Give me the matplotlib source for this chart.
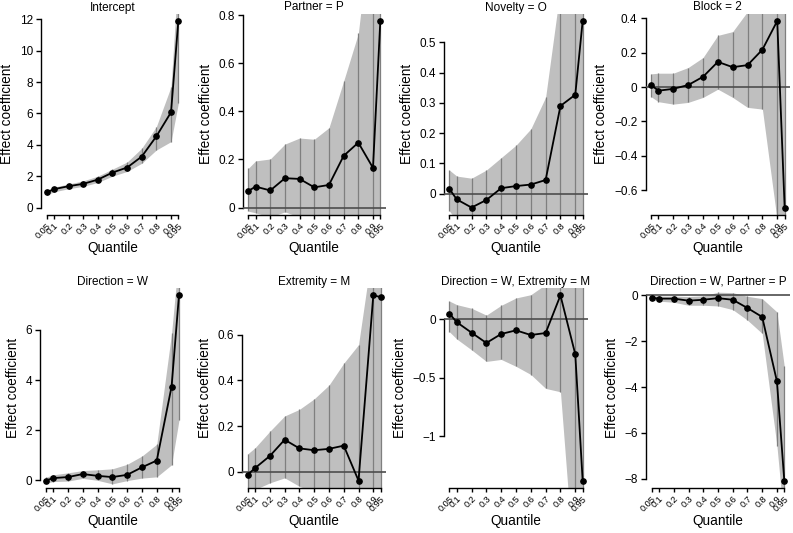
import matplotlib
matplotlib.use("Agg")
import matplotlib.pyplot as plt
from matplotlib.ticker import FixedLocator, FixedFormatter

plt.rcParams['font.family'] = ['Liberation Sans', 'DejaVu Sans']

quantiles = [0.05, 0.1, 0.2, 0.3, 0.4, 0.5, 0.6, 0.7, 0.8, 0.9, 0.95]
quantile_labels = ["0.05", "0.1", "0.2", "0.3", "0.4", "0.5", "0.6", "0.7", "0.8", "0.9", "0.95"]

titles = ["Intercept", "Partner = P", "Novelty = O", "Block = 2",
          "Direction = W", "Extremity = M", "Direction = W, Extremity = M",
          "Direction = W, Partner = P"]

intercept_coef = [0.96, 1.17, 1.36, 1.51, 1.78, 2.23, 2.55, 3.25, 4.54, 6.07, 11.89]
intercept_lower = [0.80, 1.00, 1.20, 1.35, 1.60, 2.00, 2.30, 2.82, 3.67, 4.20, 6.65]
intercept_upper = [1.10, 1.30, 1.50, 1.70, 2.00, 2.45, 2.90, 3.78, 5.16, 7.70, 15.0]

partner_coef = [0.069, 0.087, 0.071, 0.122, 0.119, 0.084, 0.094, 0.215, 0.270, 0.165, 0.776]
partner_lower = [-0.015, -0.022, -0.040, -0.018, -0.040, -0.050, -0.060, -0.080, -0.100, -0.300, -0.500]
partner_upper = [0.163, 0.194, 0.202, 0.264, 0.289, 0.284, 0.332, 0.526, 0.724, 1.250, 1.500]

novelty_coef = [0.016, -0.019, -0.046, -0.021, 0.018, 0.025, 0.030, 0.045, 0.290, 0.327, 0.571]
novelty_lower = [-0.057, -0.090, -0.110, -0.100, -0.085, -0.085, -0.090, -0.100, -0.120, -0.200, -0.300]
novelty_upper = [0.078, 0.058, 0.051, 0.078, 0.119, 0.160, 0.214, 0.319, 0.680, 0.900, 1.200]

block_coef = [0.012, -0.021, -0.010, 0.012, 0.060, 0.147, 0.116, 0.128, 0.218, 0.385, -0.701]
block_lower = [-0.056, -0.085, -0.099, -0.089, -0.060, -0.012, -0.060, -0.118, -0.128, -0.780, -1.300]
block_upper = [0.077, 0.081, 0.081, 0.114, 0.172, 0.301, 0.323, 0.440, 0.600, 0.700, 0.600]

direction_coef = [-0.01, 0.09, 0.13, 0.25, 0.18, 0.13, 0.22, 0.52, 0.79, 3.74, 7.38]
direction_lower = [-0.12, -0.05, -0.03, 0.08, 0.00, -0.14, -0.01, 0.09, 0.14, 0.62, 2.40]
direction_upper = [0.12, 0.22, 0.30, 0.39, 0.42, 0.46, 0.64, 0.97, 1.44, 5.87, 9.00]

extremity_coef = [-0.013, 0.016, 0.069, 0.140, 0.102, 0.094, 0.100, 0.114, -0.039, 0.772, 0.765]
extremity_lower = [-0.080, -0.078, -0.049, -0.027, -0.064, -0.090, -0.100, -0.120, -0.150, -0.300, -0.300]
extremity_upper = [0.078, 0.105, 0.177, 0.244, 0.273, 0.319, 0.379, 0.475, 0.556, 1.000, 1.100]

dir_ext_coef = [0.051, -0.023, -0.113, -0.201, -0.124, -0.093, -0.133, -0.116, 0.206, -0.297, -1.379]
dir_ext_lower = [-0.105, -0.167, -0.260, -0.359, -0.342, -0.401, -0.471, -0.590, -0.619, -2.260, -3.000]
dir_ext_upper = [0.158, 0.127, 0.096, 0.037, 0.121, 0.184, 0.212, 0.300, 0.500, 0.500, 0.300]

dir_partner_coef = [-0.10, -0.14, -0.14, -0.23, -0.19, -0.12, -0.19, -0.55, -0.94, -3.75, -8.08]
dir_partner_lower = [-0.20, -0.25, -0.30, -0.43, -0.43, -0.46, -0.62, -1.08, -1.66, -6.56, -10.0]
dir_partner_upper = [0.00, -0.03, -0.03, -0.05, -0.02, 0.14, 0.12, -0.04, -0.14, -0.72, -3.10]

yticks_list = [
    [0, 2, 4, 6, 8, 10, 12],
    [0, 0.2, 0.4, 0.6, 0.8],
    [0, 0.1, 0.2, 0.3, 0.4, 0.5],
    [-0.6, -0.4, -0.2, 0, 0.2, 0.4],
    [0, 2, 4, 6],
    [0, 0.2, 0.4, 0.6],
    [-1, -0.5, 0],
    [-8, -6, -4, -2, 0],
]

coefs = [intercept_coef, partner_coef, novelty_coef, block_coef,
         direction_coef, extremity_coef, dir_ext_coef, dir_partner_coef]
lowers = [intercept_lower, partner_lower, novelty_lower, block_lower,
          direction_lower, extremity_lower, dir_ext_lower, dir_partner_lower]
uppers = [intercept_upper, partner_upper, novelty_upper, block_upper,
          direction_upper, extremity_upper, dir_ext_upper, dir_partner_upper]
zero_line = [False, True, True, True, False, True, True, True]

W, H = 793, 533
fig = plt.figure(figsize=(W / 100, H / 100), dpi=100)

# pixel boxes (left, top, right, bottom)
boxes = [
    (41.4, 13.5, 183.6, 215), (243, 13.5, 385.6, 215), (444, 13.5, 588, 215), (645.7, 13.5, 790, 215),
    (40.4, 288, 184.3, 488), (242.4, 288, 386, 488), (444, 288, 588, 488), (646.4, 288, 789.6, 488),
]

def fmt(v):
    s = "{:g}".format(v)
    return s.replace("-", "\u2212")

band_color = "#bfbfbf"
vline_color = "#7f7f7f"

for i in range(8):
    l, t, r, b = boxes[i]
    ax = fig.add_axes([l / W, 1 - b / H, (r - l) / W, (b - t) / H])
    c, lo, up = coefs[i], lowers[i], uppers[i]
    ax.fill_between(quantiles, lo, up, color=band_color, linewidth=0, zorder=1)
    ax.vlines(quantiles, lo, up, color=vline_color, linewidth=0.9, zorder=2)
    if zero_line[i]:
        ax.axhline(0, color="#4d4d4d", linewidth=1.2, zorder=3)
    ax.plot(quantiles, c, color="black", linewidth=1.3, marker="o", markersize=3.8, zorder=4)

    ymin = min(min(c), 0)
    ymax = max(max(c), 0)
    pad = 0.04 * (ymax - ymin)
    ax.set_ylim(ymin - pad, ymax + pad)
    ax.set_xlim(0.05 - 0.036, 0.95 + 0.036)

    yt = yticks_list[i]
    ax.yaxis.set_major_locator(FixedLocator(yt))
    ax.yaxis.set_major_formatter(FixedFormatter([fmt(v) for v in yt]))
    ax.xaxis.set_major_locator(FixedLocator(quantiles))
    ax.xaxis.set_major_formatter(FixedFormatter(quantile_labels))

    for s in ["top", "right"]:
        ax.spines[s].set_visible(False)
    ax.spines["left"].set_bounds(min(yt), max(yt))
    ax.spines["bottom"].set_bounds(0.05, 0.95)
    ax.spines["left"].set_linewidth(1.0)
    ax.spines["bottom"].set_linewidth(1.0)

    ax.tick_params(axis="y", direction="out", length=3.5, width=1.0, pad=2.5, labelsize=8.5)
    ax.tick_params(axis="x", direction="out", length=3.0, width=1.0, pad=1.5, labelsize=6.6)
    for lab in ax.get_xticklabels():
        lab.set_rotation(45)
        lab.set_ha("right")
        lab.set_va("top")
        lab.set_rotation_mode("anchor")

    ax.set_title(titles[i], fontsize=8.5, pad=1.0)
    ax.set_ylabel("Effect coefficient", fontsize=9.8, labelpad=4)
    ax.set_xlabel("Quantile", fontsize=9.8)
    ax.xaxis.set_label_coords(0.5, -33 / (b - t))
    ax.xaxis.label.set_va("center")
    ax.patch.set_alpha(0)

fig.savefig("out.png", dpi=100)
